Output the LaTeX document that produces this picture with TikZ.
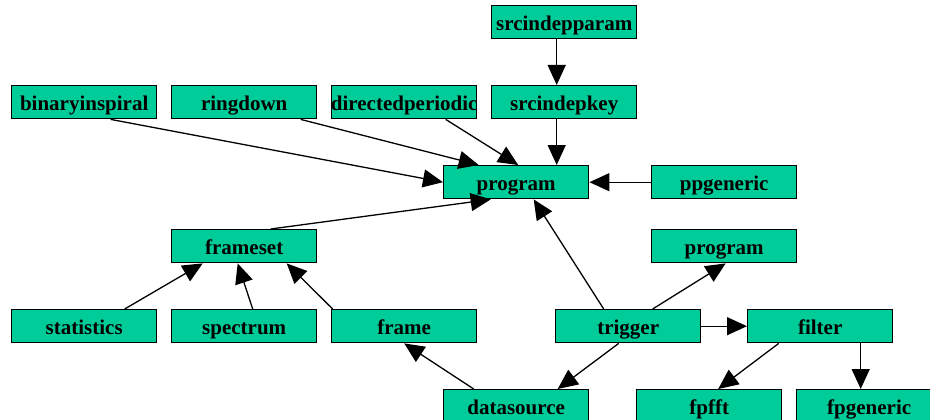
\documentclass[tikz,border=0pt]{standalone}
\usepackage{fontspec}
\setmainfont{Liberation Serif}
\usetikzlibrary{arrows.meta}
\definecolor{boxgreen}{RGB}{0,204,153}
\tikzset{
  box/.style={draw=black, line width=1.4pt, fill=boxgreen, minimum width=145pt, minimum height=33pt, inner sep=0pt, text height=18pt, text depth=2pt, anchor=north west, font=\fontsize{21}{24}\selectfont\bfseries},
  edge/.style={line width=1.3pt, -{Triangle[length=20pt,width=18pt]}},
}
\newcommand{\bl}[1]{\makebox[0pt]{#1}}
\begin{document}
\begin{tikzpicture}[x=1pt,y=-1pt]
\useasboundingbox (0,0) rectangle (930,420);
\node[box] (sp) at (491,5) {\bl{srcindepparam}};
\node[box] (sk) at (491,85) {\bl{srcindepkey}};
\node[box] (bi) at (11,85) {\bl{binaryinspiral}};
\node[box] (rd) at (171,85) {\bl{ringdown}};
\node[box] (dp) at (331,85) {\bl{directedperiodic}};
\node[box] (prog) at (443,165) {\bl{program}};
\node[box] (pp) at (651,165) {\bl{ppgeneric}};
\node[box] (fs) at (171,229) {\bl{frameset}};
\node[box] (p2) at (651,229) {\bl{program}};
\node[box] (st) at (11,309) {\bl{statistics}};
\node[box] (spec) at (171,309) {\bl{spectrum}};
\node[box] (fr) at (331,309) {\bl{frame}};
\node[box] (tr) at (555,309) {\bl{trigger}};
\node[box] (fi) at (747,309) {\bl{filter}};
\node[box] (ds) at (443,389) {\bl{datasource}};
\node[box] (ff) at (636,389) {\bl{fpfft}};
\node[box] (fg) at (796,389) {\bl{fpgeneric}};

\draw[edge] ([xshift=-7.5pt]sp.south) -- ([xshift=-7.5pt]sk.north);
\draw[edge] ([xshift=-7.5pt]sk.south) -- ([xshift=40.5pt]prog.north);
\draw[edge] (pp.west) -- (prog.east);
\draw[edge] ([xshift=26.5pt]bi.south) -- (prog.west);
\draw[edge] ([xshift=56.5pt]rd.south) -- ([xshift=-37.5pt]prog.north);
\draw[edge] ([xshift=41.5pt]dp.south) -- ([xshift=2pt]prog.north);
\draw[edge] ([xshift=26.5pt]fs.north) -- ([xshift=-25.5pt]prog.south);
\draw[edge] ([xshift=-24.5pt]tr.north) -- ([xshift=17.5pt]prog.south);
\draw[edge] ([xshift=40.5pt]st.north) -- ([xshift=-41.5pt]fs.south);
\draw[edge] ([xshift=8.5pt]spec.north) -- ([xshift=-6.5pt]fs.south);
\draw[edge] ([xshift=-71.5pt]fr.north) -- ([xshift=42.5pt]fs.south);
\draw[edge] ([xshift=-42.5pt]ds.north) -- ([xshift=0pt]fr.south);
\draw[edge] ([xshift=-9.5pt]tr.south) -- ([xshift=41.5pt]ds.north);
\draw[edge] ([xshift=24.5pt]tr.north) -- ([xshift=1.5pt]p2.south);
\draw[edge] (tr.east) -- (fi.west);
\draw[edge] ([xshift=-41.5pt]fi.south) -- ([xshift=9pt]ff.north);
\draw[edge] ([xshift=40.5pt]fi.south) -- ([xshift=-8.5pt]fg.north);
\end{tikzpicture}
\end{document}
